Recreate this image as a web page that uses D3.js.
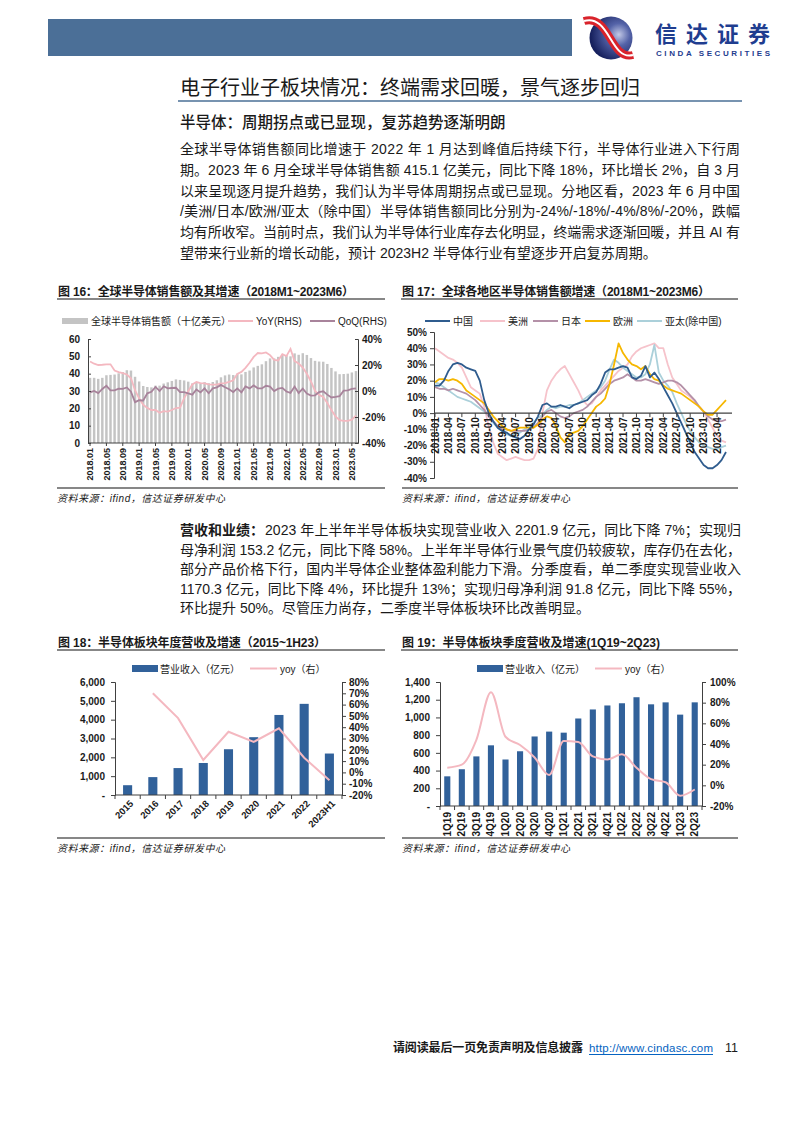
<!DOCTYPE html>
<html><head><meta charset="utf-8">
<script src="https://cdn.jsdelivr.net/npm/d3@7/dist/d3.min.js"></script>
<style>
body{margin:0;background:#fff}
svg{display:block}
text{font-family:"Liberation Sans",Arial,"Noto Sans CJK SC",sans-serif;fill:#1a1a1a}
</style></head><body>
<svg id="page" width="794" height="1123"></svg>
<script>
// ---------------- DATA ----------------
const months = [];
for (let y = 2018; y <= 2023; y++) for (let m = 1; m <= 12; m++) { if (y === 2023 && m > 6) break; months.push(y + "-" + String(m).padStart(2, "0")); }

const ticks16 = ["2018.01","2018.05","2018.09","2019.01","2019.05","2019.09","2020.01","2020.05","2020.09","2021.01","2021.05","2021.09","2022.01","2022.05","2022.09","2023.01","2023.05"];
const sales16 = [37.6,37.6,37.0,37.6,39.1,39.3,39.5,40.2,40.9,42.0,41.8,38.2,
  35.5,32.9,32.3,32.1,33.1,33.1,34.3,35.0,35.8,36.7,36.4,36.1,
  35.4,34.4,34.8,34.4,35.1,34.5,35.2,36.2,37.9,39.0,39.5,39.2,
  40.0,39.6,41.0,41.8,43.6,44.5,45.4,47.2,48.8,48.8,49.7,50.9,
  50.7,50.0,51.7,50.9,51.8,50.8,49.0,47.4,47.0,46.9,45.6,43.3,
  41.3,39.7,39.8,40.0,40.7,41.5];
const yoy16 = [22.7,21.0,20.0,20.2,20.5,20.5,15.8,14.5,13.8,12.7,9.8,0.6,
  -5.7,-10.6,-13.0,-14.6,-14.6,-16.8,-15.5,-15.9,-14.6,-13.1,-12.8,-5.5,
  -0.2,5.0,6.9,6.1,5.8,5.1,4.9,4.9,5.8,6.0,7.0,8.3,
  13.2,14.7,17.8,21.7,26.2,29.2,29.0,29.7,27.6,24.0,23.5,28.3,
  26.8,32.4,23.0,21.1,18.0,13.3,7.3,0.1,-3.0,-4.6,-9.2,-14.7,
  -19.5,-22.5,-23.0,-23.0,-22.0,-19.0];
const qoq16 = [-1.1,0.0,-1.6,1.6,4.0,0.5,0.5,1.8,1.7,2.7,-0.5,-8.6,
  -7.1,-7.3,-1.8,-0.6,3.1,0.0,3.6,2.0,2.3,2.5,-0.8,-0.8,
  -1.9,-2.8,1.2,-1.1,2.0,-1.7,2.0,2.8,4.7,2.9,1.3,-0.8,
  2.0,-1.0,3.5,2.0,4.3,2.1,2.0,4.0,3.4,0.0,1.8,2.4,
  -0.4,-1.4,3.4,-1.5,1.8,-1.9,-3.5,-3.3,-0.8,-0.2,-2.8,-5.0,
  -4.6,-3.9,0.3,0.5,1.7,2.0];

const ticks17 = ["2018-01","2018-04","2018-07","2018-10","2019-01","2019-04","2019-07","2019-10","2020-01","2020-04","2020-07","2020-10","2021-01","2021-04","2021-07","2021-10","2022-01","2022-04","2022-07","2022-10","2023-01","2023-04"];
const regions17 = ["中国","美洲","日本","欧洲","亚太(除中国)"];
const china17 = [17,17,20,26,30,31,30,28,27,26,20,8,
  0,-5,-9,-11,-12,-14,-15,-16,-14,-10,-7,-2,
  5,6,4,4,5,4,3,5,6,7,8,11,
  13,18,25,27,27,28,29,28,22,21,23,29,
  22,25,21,16,11,6,0,-6,-12,-18,-24,-28,
  -32,-34,-34,-32,-29,-24];
const americas17 = [40,38,36,34,33,31,28,22,16,14,12,4,
  -8,-18,-25,-27,-29,-28,-27,-28,-29,-29,-28,-22,
  0,14,20,24,27,29,24,19,14,8,5,6,
  10,14,17,20,23,26,28,30,35,38,40,41,
  42,43,40,40,30,22,18,14,12,10,7,4,
  1,-4,-9,-14,-17,-18];
const japan17 = [16,15,15,14,15,14,13,12,10,8,5,2,
  -2,-5,-8,-10,-10,-11,-11,-11,-11,-10,-9,-6,
  -2,1,2,0,-2,-3,-2,0,1,2,4,7,
  10,12,15,18,20,21,22,24,22,20,20,21,
  20,19,18,19,20,20,19,17,14,11,8,4,
  1,-2,-4,-5,-5,-4];
const europe17 = [19,21,21,20,21,20,18,14,12,10,8,6,
  2,-2,-5,-8,-10,-11,-10,-9,-9,-9,-9,-7,
  -4,-2,-3,-8,-15,-18,-13,-12,-11,-8,-4,0,
  4,6,9,18,30,43,37,33,30,29,27,29,
  24,21,20,17,15,14,13,12,10,8,6,4,
  1,-1,-1,2,5,8];
const apac17 = [19,18,16,14,12,10,9,8,7,5,3,1,
  -2,-6,-9,-11,-13,-14,-13,-12,-10,-8,-6,-3,
  -1,2,4,3,4,4,5,5,6,8,10,12,
  14,16,20,27,33,31,28,26,24,22,22,24,
  30,42,25,20,17,13,6,0,-6,-11,-15,-18,
  -20,-21,-22,-22,-21,-20];

const years18 = ["2015","2016","2017","2018","2019","2020","2021","2022","2023H1"];
const revenue18 = [520,950,1430,1700,2430,3070,4250,4840,2201.9];
const yoy18 = [null,70,48,11,36,27,39,13,-7];

const quarters19 = ["1Q19","2Q19","3Q19","4Q19","1Q20","2Q20","3Q20","4Q20","1Q21","2Q21","3Q21","4Q21","1Q22","2Q22","3Q22","4Q22","1Q23","2Q23"];
const revenue19 = [335,415,560,685,525,618,785,840,828,988,1090,1135,1160,1228,1148,1170,1031.6,1170.3];
const yoy19 = [17,20,44,90,47,39,27,10,43,42,28,25,30,17,6,3,-10,-4];

// ---------------- HELPERS ----------------
const svg = d3.select("#page");
const BAR = "#31619a", PINK = "#f4b8c0", AXIS = "#404040";

function T(x, y, s, o = {}) {
  const t = svg.append("text").attr("x", x).attr("y", y).text(s)
    .attr("font-size", o.size || 14);
  if (o.weight) t.attr("font-weight", o.weight);
  if (o.style) t.attr("font-style", o.style);
  if (o.fill) t.style("fill", o.fill);
  if (o.anchor) t.attr("text-anchor", o.anchor);
  if (o.len) t.attr("textLength", o.len).attr("lengthAdjust", "spacing");
  return t;
}
function L(x1, y1, x2, y2, c, w) {
  return svg.append("line").attr("x1", x1).attr("y1", y1).attr("x2", x2).attr("y2", y2)
    .attr("stroke", c).attr("stroke-width", w);
}
function styleAxis(g, size, weight) {
  g.select(".domain").attr("stroke", AXIS);
  g.selectAll(".tick line").attr("stroke", AXIS);
  g.selectAll(".tick text").attr("font-size", size).attr("font-weight", weight || "bold")
    .attr("fill", "#1a1a1a").style("font-family", '"Liberation Sans",Arial,sans-serif');
}

// ---------------- HEADER ----------------
svg.append("rect").attr("x", 48).attr("y", 19).attr("width", 524).attr("height", 37).attr("fill", "#4b6f97");
const defs = svg.append("defs");
const rg = defs.append("radialGradient").attr("id", "lg").attr("cx", "0.68").attr("cy", "0.42").attr("r", "0.65");
rg.append("stop").attr("offset", "0%").attr("stop-color", "#c2c8e6");
rg.append("stop").attr("offset", "40%").attr("stop-color", "#5463a8");
rg.append("stop").attr("offset", "100%").attr("stop-color", "#17215e");
const logo = svg.append("g").attr("transform", "translate(611,38)");
logo.append("circle").attr("r", 21.5).attr("fill", "url(#lg)");
const rib = "M-27,-17 C-14,-21 -7,-10 -1,0 C5,10 11,20 22,17";
logo.append("path").attr("d", rib).attr("fill", "none").attr("stroke", "#d9232b").attr("stroke-width", 8);
logo.append("path").attr("d", rib).attr("fill", "none").attr("stroke", "#fff").attr("stroke-width", 2);
T(655, 42, "信达证券", { size: 22, weight: "bold", fill: "#1f3d8f", len: 115 });
T(656, 55.5, "CINDA SECURITIES", { size: 8, weight: "bold", fill: "#1f3d8f", len: 114 });

T(180, 95, "电子行业子板块情况：终端需求回暖，景气逐步回归", { size: 20, len: 460 });
L(178, 101, 742, 101, "#4a6f96", 1.5);

T(180, 128, "半导体：周期拐点或已显现，复苏趋势逐渐明朗", { size: 15.5, weight: 500 });
const para1 = [
  "全球半导体销售额同比增速于 2022 年 1 月达到峰值后持续下行，半导体行业进入下行周",
  "期。2023 年 6 月全球半导体销售额 415.1 亿美元，同比下降 18%，环比增长 2%，自 3 月",
  "以来呈现逐月提升趋势，我们认为半导体周期拐点或已显现。分地区看，2023 年 6 月中国",
  "/美洲/日本/欧洲/亚太（除中国）半导体销售额同比分别为-24%/-18%/-4%/8%/-20%，跌幅",
  "均有所收窄。当前时点，我们认为半导体行业库存去化明显，终端需求逐渐回暖，并且 AI 有",
  "望带来行业新的增长动能，预计 2023H2 半导体行业有望逐步开启复苏周期。"];
para1.forEach((s, i) => T(180, 154 + i * 20.8, s, { size: 14, len: i < 5 ? 560 : null }));

// chart title / source helpers
function chartTitle(x, y, s, len, lineEnd) {
  T(x, y, s, { size: 12, weight: "bold", len: len });
  L(x - 1, y + 3, lineEnd, y + 3, "#111", 1.2);
}
function source(x, y, lineEnd) {
  L(x, y, lineEnd, y, "#111", 1.2);
  T(x, y + 14, "资料来源：ifind，信达证券研发中心", { size: 10, style: "italic", len: 168 });
}

// ---------------- CHART 16 ----------------
chartTitle(58, 296, "图 16：全球半导体销售额及其增速（2018M1~2023M6）", 296, 385);
source(57, 488, 385);
{
  const x = d3.scaleBand().domain(months).range([88, 358]).paddingInner(0.4).paddingOuter(0.2);
  const yL = d3.scaleLinear().domain([0, 60]).range([443, 339]);
  const yR = d3.scaleLinear().domain([-40, 40]).range([443, 339]);
  svg.append("g").selectAll("rect").data(sales16).join("rect")
    .attr("x", (d, i) => x(months[i])).attr("width", x.bandwidth())
    .attr("y", d => yL(d)).attr("height", d => yL(0) - yL(d)).attr("fill", "#c4c4c4");
  const cx = (d, i) => x(months[i]) + x.bandwidth() / 2;
  svg.append("path").datum(yoy16).attr("fill", "none").attr("stroke", PINK).attr("stroke-width", 1.8)
    .attr("d", d3.line().x(cx).y(d => yR(d)));
  svg.append("path").datum(qoq16).attr("fill", "none").attr("stroke", "#a8839b").attr("stroke-width", 1.8)
    .attr("d", d3.line().x(cx).y(d => yR(d)));
  const gl = svg.append("g").attr("transform", "translate(88,0)")
    .call(d3.axisLeft(yL).tickValues([0, 10, 20, 30, 40, 50, 60]).tickSize(-3).tickPadding(8));
  styleAxis(gl, 10);
  const gr = svg.append("g").attr("transform", "translate(358,0)")
    .call(d3.axisRight(yR).tickValues([-40, -20, 0, 20, 40]).tickFormat(d => d + "%").tickSize(-3).tickPadding(4));
  styleAxis(gr, 10);
  L(88, 443, 358, 443, AXIS, 1.2);
  const tk = svg.append("g");
  ticks16.forEach(t => {
    const m = t.replace(".", "-");
    const px = x(m) + x.bandwidth() / 2;
    L(px, 443, px, 446, AXIS, 1);
    tk.append("text").attr("transform", `translate(${px},448) rotate(-90)`).attr("dy", "0.35em")
      .attr("text-anchor", "end").attr("font-size", 9).attr("font-weight", "bold").text(t);
  });
  // legend
  svg.append("rect").attr("x", 62).attr("y", 318).attr("width", 26).attr("height", 6).attr("fill", "#c4c4c4");
  T(91, 325, "全球半导体销售额（十亿美元）", { size: 10 });
  L(228, 321, 253, 321, PINK, 2);
  T(256, 325, "YoY(RHS)", { size: 10 });
  L(310, 321, 335, 321, "#a8839b", 2);
  T(338, 325, "QoQ(RHS)", { size: 10 });
}

// ---------------- CHART 17 ----------------
chartTitle(402, 296, "图 17：全球各地区半导体销售额增速（2018M1~2023M6）", 308, 738);
source(402, 488, 738);
{
  const x = d3.scalePoint().domain(months).range([435, 726]);
  const y = d3.scaleLinear().domain([-40, 50]).range([478, 332]);
  const series = [china17, americas17, japan17, europe17, apac17];
  const colors = ["#2f5c8e", "#f6c3cb", "#b491a8", "#f6b700", "#abd0da"];
  const order = [1, 4, 2, 3, 0];
  order.forEach(k => {
    svg.append("path").datum(series[k]).attr("fill", "none").attr("stroke", colors[k]).attr("stroke-width", 1.8)
      .attr("stroke-linejoin", "round")
      .attr("d", d3.line().x((d, i) => x(months[i])).y(d => y(d)));
  });
  const gy = svg.append("g").attr("transform", "translate(434,0)")
    .call(d3.axisLeft(y).tickValues(d3.range(-40, 51, 10)).tickFormat(d => d + "%").tickSize(4).tickPadding(3));
  styleAxis(gy, 10);
  L(434, y(0), 732, y(0), AXIS, 1.2);
  ticks17.forEach(t => {
    const px = x(t);
    L(px, y(0), px, y(0) + 4, AXIS, 1);
    svg.append("text").attr("transform", `translate(${px},${y(0) + 4}) rotate(-90)`).attr("dy", "0.35em")
      .attr("text-anchor", "end").attr("font-size", 10).attr("font-weight", "bold").text(t);
  });
  const lx = [425, 480, 533, 585, 637];
  regions17.forEach((r, k) => {
    L(lx[k], 321, lx[k] + 25, 321, colors[k], 2);
    T(lx[k] + 28, 325, r, { size: 10 });
  });
}

// ---------------- MIDDLE TEXT ----------------
T(180, 535, "营收和业绩：", { size: 14, weight: "bold" });
const para2 = [
  "2023 年上半年半导体板块实现营业收入 2201.9 亿元，同比下降 7%；实现归",
  "母净利润 153.2 亿元，同比下降 58%。上半年半导体行业景气度仍较疲软，库存仍在去化，",
  "部分产品价格下行，国内半导体企业整体盈利能力下滑。分季度看，单二季度实现营业收入",
  "1170.3 亿元，同比下降 4%，环比提升 13%；实现归母净利润 91.8 亿元，同比下降 55%，",
  "环比提升 50%。尽管压力尚存，二季度半导体板块环比改善明显。"];
para2.forEach((s, i) => {
  if (i === 0) T(265, 535, s, { size: 14, len: 476 });
  else T(180, 535 + i * 19.5, s, { size: 14, len: i < 4 ? 561 : null });
});

// ---------------- CHART 18 ----------------
chartTitle(58, 647, "图 18：半导体板块年度营收及增速（2015~1H23）", 268, 385);
source(57, 838, 385);
{
  const x = d3.scaleBand().domain(years18).range([115, 342]).paddingInner(0.64).paddingOuter(0.32);
  const yL = d3.scaleLinear().domain([0, 6000]).range([795, 682]);
  const yR = d3.scaleLinear().domain([-20, 80]).range([795, 682]);
  svg.append("g").selectAll("rect").data(revenue18).join("rect")
    .attr("x", (d, i) => x(years18[i])).attr("width", x.bandwidth())
    .attr("y", d => yL(d)).attr("height", d => yL(0) - yL(d)).attr("fill", BAR);
  const pts = yoy18.map((v, i) => [x(years18[i]) + x.bandwidth() / 2, v]).filter(p => p[1] !== null);
  svg.append("path").datum(pts).attr("fill", "none").attr("stroke", PINK).attr("stroke-width", 2)
    .attr("d", d3.line().x(p => p[0]).y(p => yR(p[1])));
  const gl = svg.append("g").attr("transform", "translate(115,0)")
    .call(d3.axisLeft(yL).tickValues(d3.range(0, 6001, 1000)).tickFormat(d => d === 0 ? "-" : d3.format(",")(d)).tickSize(4).tickPadding(6));
  styleAxis(gl, 10);
  const gr = svg.append("g").attr("transform", "translate(342,0)")
    .call(d3.axisRight(yR).tickValues(d3.range(-20, 81, 10)).tickFormat(d => d + "%").tickSize(4).tickPadding(3));
  styleAxis(gr, 10);
  L(115, 795, 342, 795, AXIS, 1.2);
  years18.forEach((t, i) => {
    const bx = x(t) - x.step() * x.paddingInner() / 2;
    L(bx, 795, bx, 799, AXIS, 1);
    const px = x(t) + x.bandwidth() / 2;
    svg.append("text").attr("transform", `translate(${px + 4},802) rotate(-45)`).attr("dy", "0.35em")
      .attr("text-anchor", "end").attr("font-size", 9.5).attr("font-weight", "bold").text(t);
  });
  L(342, 795, 342, 799, AXIS, 1);
  svg.append("rect").attr("x", 132).attr("y", 665).attr("width", 26).attr("height", 7).attr("fill", BAR);
  T(160, 672.5, "营业收入（亿元）", { size: 10 });
  L(250, 668.5, 277, 668.5, PINK, 2);
  T(280, 672.5, "yoy（右）", { size: 10 });
}

// ---------------- CHART 19 ----------------
chartTitle(402, 647, "图 19：半导体板块季度营收及增速(1Q19~2Q23)", 258, 738);
source(402, 838, 738);
{
  const x = d3.scaleBand().domain(quarters19).range([440, 702]).paddingInner(0.58).paddingOuter(0.29);
  const yL = d3.scaleLinear().domain([0, 1400]).range([806, 682]);
  const yR = d3.scaleLinear().domain([-20, 100]).range([806, 682]);
  svg.append("g").selectAll("rect").data(revenue19).join("rect")
    .attr("x", (d, i) => x(quarters19[i])).attr("width", x.bandwidth())
    .attr("y", d => yL(d)).attr("height", d => yL(0) - yL(d)).attr("fill", BAR);
  svg.append("path").datum(yoy19).attr("fill", "none").attr("stroke", PINK).attr("stroke-width", 2)
    .attr("d", d3.line().curve(d3.curveMonotoneX).x((d, i) => x(quarters19[i]) + x.bandwidth() / 2).y(d => yR(d)));
  const gl = svg.append("g").attr("transform", "translate(440,0)")
    .call(d3.axisLeft(yL).tickValues(d3.range(0, 1401, 200)).tickFormat(d => d === 0 ? "-" : d3.format(",")(d)).tickSize(4).tickPadding(6));
  styleAxis(gl, 10);
  const gr = svg.append("g").attr("transform", "translate(702,0)")
    .call(d3.axisRight(yR).tickValues(d3.range(-20, 101, 20)).tickFormat(d => d + "%").tickSize(4).tickPadding(4));
  styleAxis(gr, 10);
  L(440, 806, 702, 806, AXIS, 1.2);
  quarters19.forEach(t => {
    const bx = x(t) - x.step() * x.paddingInner() / 2;
    L(bx, 806, bx, 810, AXIS, 1);
    const px = x(t) + x.bandwidth() / 2;
    svg.append("text").attr("transform", `translate(${px},812) rotate(-90)`).attr("dy", "0.35em")
      .attr("text-anchor", "end").attr("font-size", 10).attr("font-weight", "bold").text(t);
  });
  L(702, 806, 702, 810, AXIS, 1);
  svg.append("rect").attr("x", 477).attr("y", 665).attr("width", 26).attr("height", 7).attr("fill", BAR);
  T(505, 672.5, "营业收入（亿元）", { size: 10 });
  L(595, 668.5, 622, 668.5, PINK, 2);
  T(625, 672.5, "yoy（右）", { size: 10 });
}

// ---------------- FOOTER ----------------
T(393, 1052, "请阅读最后一页免责声明及信息披露", { size: 12, weight: "bold", len: 190 });
T(589, 1052, "http://www.cindasc.com", { size: 11.5, fill: "#0563c1", len: 124 });
L(589, 1054.5, 713, 1054.5, "#0563c1", 1);
T(725, 1052, "11", { size: 12.5 });
</script>
</body></html>
